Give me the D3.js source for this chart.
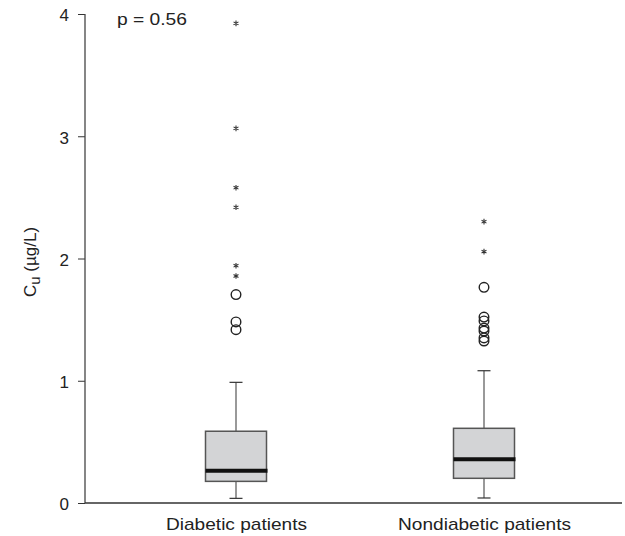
<!DOCTYPE html>
<html><head><meta charset="utf-8">
<script src="https://cdn.jsdelivr.net/npm/d3@7"></script>
<style>body{margin:0;background:#fff;} text{font-family:"Liberation Sans",Arial,sans-serif;fill:#222;}</style>
</head><body><svg id="c" width="625" height="536"></svg>
<script>
const categories = ["Diabetic patients", "Nondiabetic patients"];
const whiskerLow = [0.038, 0.041];
const q1 = [0.177, 0.202];
const medians = [0.264, 0.357];
const q3 = [0.587, 0.611];
const whiskerHigh = [0.987, 1.082];
const outlierCircles = [
  [1.705, 1.481, 1.418],
  [1.764, 1.521, 1.489, 1.431, 1.407, 1.350, 1.325]
];
const extremeStars = [
  [3.924, 3.065, 2.579, 2.419, 1.941, 1.857],
  [2.301, 2.056]
];
const yTicks = [0, 1, 2, 3, 4];

const svg = d3.select("#c");
const mLeft = 85, mRight = 622, mTop = 14, mBottom = 503;
const y = d3.scaleLinear().domain([0, 4]).range([mBottom, mTop]);
const x = d3.scalePoint().domain(categories).range([236, 484]).padding(0);
const bw = 61;

// axes
const yAxis = d3.axisLeft(y).tickValues(yTicks).tickFormat(d3.format("d")).tickSize(7).tickPadding(9);
const gy = svg.append("g").attr("transform", `translate(${mLeft},0)`).call(yAxis);
gy.select(".domain").remove();
gy.selectAll(".tick line").attr("stroke", "#333");
gy.selectAll(".tick text").attr("font-size", 17).attr("dy", "0.4em").style("font-family", "Liberation Sans, Arial, sans-serif").attr("fill", "#222");
svg.append("line").attr("x1", mLeft).attr("x2", mLeft).attr("y1", y(4)).attr("y2", y(0)).attr("stroke", "#444").attr("stroke-width", 1.3);
svg.append("line").attr("x1", mLeft).attr("x2", mRight).attr("y1", y(0)).attr("y2", y(0)).attr("stroke", "#333").attr("stroke-width", 1.3);

const xAxis = d3.axisBottom(x).tickSize(0).tickPadding(15);
const gx = svg.append("g").attr("transform", `translate(0,${mBottom})`).call(xAxis);
gx.select(".domain").remove();
gx.selectAll(".tick text").attr("font-size", 17).style("font-family", "Liberation Sans, Arial, sans-serif").attr("fill", "#222")
  .attr("textLength", (d, i) => [141, 173][i]).attr("lengthAdjust", "spacingAndGlyphs");

// boxes
categories.forEach((c, i) => {
  const g = svg.append("g");
  const xc = x(c);
  g.append("line").attr("x1", xc).attr("x2", xc).attr("y1", y(whiskerHigh[i])).attr("y2", y(q3[i])).attr("stroke", "#555").attr("stroke-width", 1.2);
  g.append("line").attr("x1", xc).attr("x2", xc).attr("y1", y(q1[i])).attr("y2", y(whiskerLow[i])).attr("stroke", "#555").attr("stroke-width", 1.2);
  g.append("line").attr("x1", xc - 6.5).attr("x2", xc + 6.5).attr("y1", y(whiskerHigh[i])).attr("y2", y(whiskerHigh[i])).attr("stroke", "#333").attr("stroke-width", 1.2);
  g.append("line").attr("x1", xc - 6.5).attr("x2", xc + 6.5).attr("y1", y(whiskerLow[i])).attr("y2", y(whiskerLow[i])).attr("stroke", "#333").attr("stroke-width", 1.2);
  g.append("rect").attr("x", xc - bw / 2).attr("y", y(q3[i])).attr("width", bw).attr("height", y(q1[i]) - y(q3[i]))
    .attr("fill", "#d3d4d6").attr("stroke", "#555").attr("stroke-width", 1.5);
  g.append("line").attr("x1", xc - bw / 2).attr("x2", xc + bw / 2 + 1).attr("y1", y(medians[i])).attr("y2", y(medians[i])).attr("stroke", "#111").attr("stroke-width", 4);
  g.selectAll("circle.o").data(outlierCircles[i]).join("circle").attr("class", "o")
    .attr("cx", xc).attr("cy", d => y(d)).attr("r", 4.8).attr("fill", "none").attr("stroke", "#222").attr("stroke-width", 1.4);
  g.selectAll("path.s").data(extremeStars[i]).join("path").attr("class", "s")
    .attr("transform", d => `translate(${xc},${y(d)})`)
    .attr("d", d3.symbol(d3.symbolAsterisk, 22)()).attr("fill", "none").attr("stroke", "#333").attr("stroke-width", 1.1);
});

// p value
svg.append("text").attr("x", 117).attr("y", 25).attr("font-size", 17)
  .attr("textLength", 70).attr("lengthAdjust", "spacingAndGlyphs").text("p = 0.56");

// y label
const yl = svg.append("text").attr("transform", "translate(36,262) rotate(-90)").attr("text-anchor", "middle").attr("font-size", 17);
yl.append("tspan").text("C");
yl.append("tspan").attr("font-size", 15).attr("dy", 4).text("u");
yl.append("tspan").attr("dy", -4).text(" (µg/L)");
</script></body></html>
